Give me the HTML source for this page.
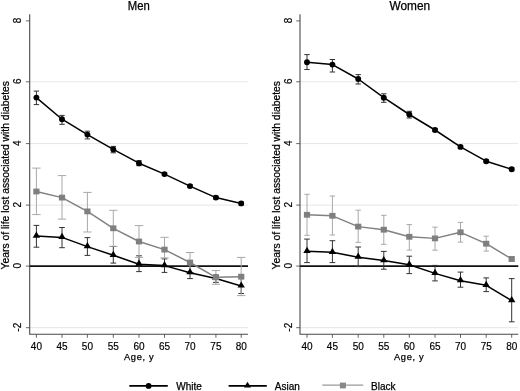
<!DOCTYPE html><html><head><meta charset="utf-8"><style>html,body{margin:0;padding:0;background:#fff;}svg{display:block;will-change:transform;}text{font-family:"Liberation Sans",sans-serif;fill:#000;stroke:#000;stroke-width:0.25px;}.tl{stroke-width:0.18px;}</style></head><body>
<svg width="520" height="391" viewBox="0 0 520 391">
<rect width="520" height="391" fill="#fff"/>
<line x1="29.7" y1="205.1" x2="248" y2="205.1" stroke="#e6e6e6" stroke-width="1"/>
<line x1="29.7" y1="143.6" x2="248" y2="143.6" stroke="#e6e6e6" stroke-width="1"/>
<line x1="29.7" y1="81.8" x2="248" y2="81.8" stroke="#e6e6e6" stroke-width="1"/>
<line x1="29.7" y1="327.7" x2="248" y2="327.7" stroke="#e6e6e6" stroke-width="1"/>
<line x1="25.9" y1="327.7" x2="29.7" y2="327.7" stroke="#666" stroke-width="1"/>
<text transform="translate(20.9,327.2) rotate(-90)" text-anchor="middle" font-size="10" class="tl">-2</text>
<line x1="25.9" y1="266.1" x2="29.7" y2="266.1" stroke="#666" stroke-width="1"/>
<text transform="translate(20.9,265.6) rotate(-90)" text-anchor="middle" font-size="10" class="tl">0</text>
<line x1="25.9" y1="205.1" x2="29.7" y2="205.1" stroke="#666" stroke-width="1"/>
<text transform="translate(20.9,204.6) rotate(-90)" text-anchor="middle" font-size="10" class="tl">2</text>
<line x1="25.9" y1="143.6" x2="29.7" y2="143.6" stroke="#666" stroke-width="1"/>
<text transform="translate(20.9,143.1) rotate(-90)" text-anchor="middle" font-size="10" class="tl">4</text>
<line x1="25.9" y1="81.8" x2="29.7" y2="81.8" stroke="#666" stroke-width="1"/>
<text transform="translate(20.9,81.3) rotate(-90)" text-anchor="middle" font-size="10" class="tl">6</text>
<line x1="25.9" y1="20.9" x2="29.7" y2="20.9" stroke="#666" stroke-width="1"/>
<text transform="translate(20.9,20.4) rotate(-90)" text-anchor="middle" font-size="10" class="tl">8</text>
<line x1="36.4" y1="334.2" x2="36.4" y2="337.8" stroke="#666" stroke-width="1"/>
<text x="36.4" y="350.2" text-anchor="middle" font-size="10" class="tl">40</text>
<line x1="62" y1="334.2" x2="62" y2="337.8" stroke="#666" stroke-width="1"/>
<text x="62" y="350.2" text-anchor="middle" font-size="10" class="tl">45</text>
<line x1="87.4" y1="334.2" x2="87.4" y2="337.8" stroke="#666" stroke-width="1"/>
<text x="87.4" y="350.2" text-anchor="middle" font-size="10" class="tl">50</text>
<line x1="113.3" y1="334.2" x2="113.3" y2="337.8" stroke="#666" stroke-width="1"/>
<text x="113.3" y="350.2" text-anchor="middle" font-size="10" class="tl">55</text>
<line x1="139" y1="334.2" x2="139" y2="337.8" stroke="#666" stroke-width="1"/>
<text x="139" y="350.2" text-anchor="middle" font-size="10" class="tl">60</text>
<line x1="164.5" y1="334.2" x2="164.5" y2="337.8" stroke="#666" stroke-width="1"/>
<text x="164.5" y="350.2" text-anchor="middle" font-size="10" class="tl">65</text>
<line x1="190" y1="334.2" x2="190" y2="337.8" stroke="#666" stroke-width="1"/>
<text x="190" y="350.2" text-anchor="middle" font-size="10" class="tl">70</text>
<line x1="215.9" y1="334.2" x2="215.9" y2="337.8" stroke="#666" stroke-width="1"/>
<text x="215.9" y="350.2" text-anchor="middle" font-size="10" class="tl">75</text>
<line x1="241.2" y1="334.2" x2="241.2" y2="337.8" stroke="#666" stroke-width="1"/>
<text x="241.2" y="350.2" text-anchor="middle" font-size="10" class="tl">80</text>
<path d="M29.7 14.2V334.2H248" fill="none" stroke="#4a4a4a" stroke-width="1.1"/>
<line x1="29.7" y1="266.1" x2="248" y2="266.1" stroke="#111" stroke-width="1.7"/>
<text x="138.85" y="9.8" text-anchor="middle" font-size="12" textLength="22.0" lengthAdjust="spacingAndGlyphs">Men</text>
<text transform="translate(9.4,175.2) rotate(-90)" text-anchor="middle" font-size="10.4" textLength="188.5" lengthAdjust="spacingAndGlyphs">Years of life lost associated with diabetes</text>
<text x="138.8" y="359.9" text-anchor="middle" font-size="9.3" textLength="29.6" lengthAdjust="spacing">Age, y</text>
<path d="M36.4 91.1V104.6M33.7 91.1H39.1M33.7 104.6H39.1" fill="none" stroke="#333" stroke-width="1"/>
<path d="M62 115.4V124.3M59.3 115.4H64.7M59.3 124.3H64.7" fill="none" stroke="#333" stroke-width="1"/>
<path d="M87.4 131.2V138.9M84.7 131.2H90.1M84.7 138.9H90.1" fill="none" stroke="#333" stroke-width="1"/>
<path d="M113.3 146.4V152.8M110.6 146.4H116M110.6 152.8H116" fill="none" stroke="#333" stroke-width="1"/>
<path d="M139 160.7V165.7M136.3 160.7H141.7M136.3 165.7H141.7" fill="none" stroke="#333" stroke-width="1"/>
<path d="M164.5 172.6V175.6M161.8 172.6H167.2M161.8 175.6H167.2" fill="none" stroke="#333" stroke-width="1"/>
<path d="M190 184.6V187.6M187.3 184.6H192.7M187.3 187.6H192.7" fill="none" stroke="#333" stroke-width="1"/>
<path d="M215.9 196.1V199.1M213.2 196.1H218.6M213.2 199.1H218.6" fill="none" stroke="#333" stroke-width="1"/>
<path d="M241.2 201.9V204.9M238.5 201.9H243.9M238.5 204.9H243.9" fill="none" stroke="#333" stroke-width="1"/>
<path d="M36.4 225.4V247.2M33.55 225.4H39.25M33.55 247.2H39.25" fill="none" stroke="#333" stroke-width="1"/>
<path d="M62 227.5V247.7M59.15 227.5H64.85M59.15 247.7H64.85" fill="none" stroke="#333" stroke-width="1"/>
<path d="M87.4 237.6V255.4M84.55 237.6H90.25M84.55 255.4H90.25" fill="none" stroke="#333" stroke-width="1"/>
<path d="M113.3 246.5V263.1M110.45 246.5H116.15M110.45 263.1H116.15" fill="none" stroke="#333" stroke-width="1"/>
<path d="M139 255.8V271.6M136.15 255.8H141.85M136.15 271.6H141.85" fill="none" stroke="#333" stroke-width="1"/>
<path d="M164.5 258.9V272.4M161.65 258.9H167.35M161.65 272.4H167.35" fill="none" stroke="#333" stroke-width="1"/>
<path d="M190 266V278.6M187.15 266H192.85M187.15 278.6H192.85" fill="none" stroke="#333" stroke-width="1"/>
<path d="M215.9 275V282.4M213.05 275H218.75M213.05 282.4H218.75" fill="none" stroke="#333" stroke-width="1"/>
<path d="M241.2 277V293.5M238.35 277H244.05M238.35 293.5H244.05" fill="none" stroke="#333" stroke-width="1"/>
<path d="M36.4 168.1V214.6M32.2 168.1H40.6M32.2 214.6H40.6" fill="none" stroke="#a8a8a8" stroke-width="1"/>
<path d="M62 175.6V219.1M57.8 175.6H66.2M57.8 219.1H66.2" fill="none" stroke="#a8a8a8" stroke-width="1"/>
<path d="M87.4 192.4V232M83.2 192.4H91.6M83.2 232H91.6" fill="none" stroke="#a8a8a8" stroke-width="1"/>
<path d="M113.3 210.3V246.3M109.1 210.3H117.5M109.1 246.3H117.5" fill="none" stroke="#a8a8a8" stroke-width="1"/>
<path d="M139 225.6V257.4M134.8 225.6H143.2M134.8 257.4H143.2" fill="none" stroke="#a8a8a8" stroke-width="1"/>
<path d="M164.5 237.3V257.9M160.3 237.3H168.7M160.3 257.9H168.7" fill="none" stroke="#a8a8a8" stroke-width="1"/>
<path d="M190 252.5V272.5M185.8 252.5H194.2M185.8 272.5H194.2" fill="none" stroke="#a8a8a8" stroke-width="1"/>
<path d="M215.9 270.6V284.3M211.7 270.6H220.1M211.7 284.3H220.1" fill="none" stroke="#a8a8a8" stroke-width="1"/>
<path d="M241.2 257.4V295.6M237 257.4H245.4M237 295.6H245.4" fill="none" stroke="#a8a8a8" stroke-width="1"/>
<polyline points="36.4,97.6 62,119.2 87.4,134.6 113.3,149.4 139,163.2 164.5,174.1 190,186.1 215.9,197.6 241.2,203.4" fill="none" stroke="#000" stroke-width="1.5" stroke-linejoin="round"/>
<circle cx="36.4" cy="97.6" r="2.95" fill="#000"/>
<circle cx="62" cy="119.2" r="2.95" fill="#000"/>
<circle cx="87.4" cy="134.6" r="2.95" fill="#000"/>
<circle cx="113.3" cy="149.4" r="2.95" fill="#000"/>
<circle cx="139" cy="163.2" r="2.95" fill="#000"/>
<circle cx="164.5" cy="174.1" r="2.95" fill="#000"/>
<circle cx="190" cy="186.1" r="2.95" fill="#000"/>
<circle cx="215.9" cy="197.6" r="2.95" fill="#000"/>
<circle cx="241.2" cy="203.4" r="2.95" fill="#000"/>
<polyline points="36.4,236.1 62,237.4 87.4,246.6 113.3,255.3 139,264.2 164.5,265.6 190,272.7 215.9,278.5 241.2,286" fill="none" stroke="#000" stroke-width="1.5" stroke-linejoin="round"/>
<path d="M36.4 231.5L40.1 237.7L32.7 237.7Z" fill="#000"/>
<path d="M62 232.8L65.7 239L58.3 239Z" fill="#000"/>
<path d="M87.4 242L91.1 248.2L83.7 248.2Z" fill="#000"/>
<path d="M113.3 250.7L117 256.9L109.6 256.9Z" fill="#000"/>
<path d="M139 259.6L142.7 265.8L135.3 265.8Z" fill="#000"/>
<path d="M164.5 261L168.2 267.2L160.8 267.2Z" fill="#000"/>
<path d="M190 268.1L193.7 274.3L186.3 274.3Z" fill="#000"/>
<path d="M215.9 273.9L219.6 280.1L212.2 280.1Z" fill="#000"/>
<path d="M241.2 281.4L244.9 287.6L237.5 287.6Z" fill="#000"/>
<polyline points="36.4,191.5 62,197.6 87.4,211.4 113.3,228.3 139,241.5 164.5,249.6 190,262.5 215.9,277.3 241.2,276.7" fill="none" stroke="#808080" stroke-width="1.45" stroke-linejoin="round"/>
<rect x="33.3" y="188.6" width="6.2" height="5.8" fill="#7f7f7f"/>
<rect x="58.9" y="194.7" width="6.2" height="5.8" fill="#7f7f7f"/>
<rect x="84.3" y="208.5" width="6.2" height="5.8" fill="#7f7f7f"/>
<rect x="110.2" y="225.4" width="6.2" height="5.8" fill="#7f7f7f"/>
<rect x="135.9" y="238.6" width="6.2" height="5.8" fill="#7f7f7f"/>
<rect x="161.4" y="246.7" width="6.2" height="5.8" fill="#7f7f7f"/>
<rect x="186.9" y="259.6" width="6.2" height="5.8" fill="#7f7f7f"/>
<rect x="212.8" y="274.4" width="6.2" height="5.8" fill="#7f7f7f"/>
<rect x="238.1" y="273.8" width="6.2" height="5.8" fill="#7f7f7f"/>
<line x1="300" y1="205.1" x2="518.3" y2="205.1" stroke="#e6e6e6" stroke-width="1"/>
<line x1="300" y1="143.6" x2="518.3" y2="143.6" stroke="#e6e6e6" stroke-width="1"/>
<line x1="300" y1="81.8" x2="518.3" y2="81.8" stroke="#e6e6e6" stroke-width="1"/>
<line x1="300" y1="327.7" x2="518.3" y2="327.7" stroke="#e6e6e6" stroke-width="1"/>
<line x1="296.2" y1="327.7" x2="300" y2="327.7" stroke="#666" stroke-width="1"/>
<text transform="translate(291.9,327.2) rotate(-90)" text-anchor="middle" font-size="10" class="tl">-2</text>
<line x1="296.2" y1="266.1" x2="300" y2="266.1" stroke="#666" stroke-width="1"/>
<text transform="translate(291.9,265.6) rotate(-90)" text-anchor="middle" font-size="10" class="tl">0</text>
<line x1="296.2" y1="205.1" x2="300" y2="205.1" stroke="#666" stroke-width="1"/>
<text transform="translate(291.9,204.6) rotate(-90)" text-anchor="middle" font-size="10" class="tl">2</text>
<line x1="296.2" y1="143.6" x2="300" y2="143.6" stroke="#666" stroke-width="1"/>
<text transform="translate(291.9,143.1) rotate(-90)" text-anchor="middle" font-size="10" class="tl">4</text>
<line x1="296.2" y1="81.8" x2="300" y2="81.8" stroke="#666" stroke-width="1"/>
<text transform="translate(291.9,81.3) rotate(-90)" text-anchor="middle" font-size="10" class="tl">6</text>
<line x1="296.2" y1="20.9" x2="300" y2="20.9" stroke="#666" stroke-width="1"/>
<text transform="translate(291.9,20.4) rotate(-90)" text-anchor="middle" font-size="10" class="tl">8</text>
<line x1="307" y1="334.2" x2="307" y2="337.8" stroke="#666" stroke-width="1"/>
<text x="307" y="350.2" text-anchor="middle" font-size="10" class="tl">40</text>
<line x1="332.4" y1="334.2" x2="332.4" y2="337.8" stroke="#666" stroke-width="1"/>
<text x="332.4" y="350.2" text-anchor="middle" font-size="10" class="tl">45</text>
<line x1="358.2" y1="334.2" x2="358.2" y2="337.8" stroke="#666" stroke-width="1"/>
<text x="358.2" y="350.2" text-anchor="middle" font-size="10" class="tl">50</text>
<line x1="383.8" y1="334.2" x2="383.8" y2="337.8" stroke="#666" stroke-width="1"/>
<text x="383.8" y="350.2" text-anchor="middle" font-size="10" class="tl">55</text>
<line x1="409.3" y1="334.2" x2="409.3" y2="337.8" stroke="#666" stroke-width="1"/>
<text x="409.3" y="350.2" text-anchor="middle" font-size="10" class="tl">60</text>
<line x1="435" y1="334.2" x2="435" y2="337.8" stroke="#666" stroke-width="1"/>
<text x="435" y="350.2" text-anchor="middle" font-size="10" class="tl">65</text>
<line x1="460.5" y1="334.2" x2="460.5" y2="337.8" stroke="#666" stroke-width="1"/>
<text x="460.5" y="350.2" text-anchor="middle" font-size="10" class="tl">70</text>
<line x1="486.2" y1="334.2" x2="486.2" y2="337.8" stroke="#666" stroke-width="1"/>
<text x="486.2" y="350.2" text-anchor="middle" font-size="10" class="tl">75</text>
<line x1="511.7" y1="334.2" x2="511.7" y2="337.8" stroke="#666" stroke-width="1"/>
<text x="511.7" y="350.2" text-anchor="middle" font-size="10" class="tl">80</text>
<path d="M300 14.2V334.2H518.3" fill="none" stroke="#4a4a4a" stroke-width="1.1"/>
<line x1="300" y1="266.1" x2="518.3" y2="266.1" stroke="#111" stroke-width="1.7"/>
<text x="409.8" y="9.8" text-anchor="middle" font-size="12" textLength="40.6" lengthAdjust="spacingAndGlyphs">Women</text>
<text transform="translate(279.7,175.2) rotate(-90)" text-anchor="middle" font-size="10.4" textLength="188.5" lengthAdjust="spacingAndGlyphs">Years of life lost associated with diabetes</text>
<text x="408.8" y="359.9" text-anchor="middle" font-size="9.3" textLength="29.6" lengthAdjust="spacing">Age, y</text>
<path d="M307 54.6V69.5M304.3 54.6H309.7M304.3 69.5H309.7" fill="none" stroke="#333" stroke-width="1"/>
<path d="M332.4 59.5V72M329.7 59.5H335.1M329.7 72H335.1" fill="none" stroke="#333" stroke-width="1"/>
<path d="M358.2 74.6V84M355.5 74.6H360.9M355.5 84H360.9" fill="none" stroke="#333" stroke-width="1"/>
<path d="M383.8 93.8V102.3M381.1 93.8H386.5M381.1 102.3H386.5" fill="none" stroke="#333" stroke-width="1"/>
<path d="M409.3 111.3V118M406.6 111.3H412M406.6 118H412" fill="none" stroke="#333" stroke-width="1"/>
<path d="M435 128.5V131.5M432.3 128.5H437.7M432.3 131.5H437.7" fill="none" stroke="#333" stroke-width="1"/>
<path d="M460.5 145.4V148.4M457.8 145.4H463.2M457.8 148.4H463.2" fill="none" stroke="#333" stroke-width="1"/>
<path d="M486.2 159.7V162.7M483.5 159.7H488.9M483.5 162.7H488.9" fill="none" stroke="#333" stroke-width="1"/>
<path d="M511.7 167.7V170.7M509 167.7H514.4M509 170.7H514.4" fill="none" stroke="#333" stroke-width="1"/>
<path d="M307 239.1V262.6M304.15 239.1H309.85M304.15 262.6H309.85" fill="none" stroke="#333" stroke-width="1"/>
<path d="M332.4 240.7V262.6M329.55 240.7H335.25M329.55 262.6H335.25" fill="none" stroke="#333" stroke-width="1"/>
<path d="M358.2 247V266.6M355.35 247H361.05M355.35 266.6H361.05" fill="none" stroke="#333" stroke-width="1"/>
<path d="M383.8 251.4V269.2M380.95 251.4H386.65M380.95 269.2H386.65" fill="none" stroke="#333" stroke-width="1"/>
<path d="M409.3 256.2V273.6M406.45 256.2H412.15M406.45 273.6H412.15" fill="none" stroke="#333" stroke-width="1"/>
<path d="M435 265.4V280.9M432.15 265.4H437.85M432.15 280.9H437.85" fill="none" stroke="#333" stroke-width="1"/>
<path d="M460.5 272.1V287.2M457.65 272.1H463.35M457.65 287.2H463.35" fill="none" stroke="#333" stroke-width="1"/>
<path d="M486.2 277.9V291.6M483.35 277.9H489.05M483.35 291.6H489.05" fill="none" stroke="#333" stroke-width="1"/>
<path d="M511.7 278.6V321.8M508.85 278.6H514.55M508.85 321.8H514.55" fill="none" stroke="#333" stroke-width="1"/>
<path d="M307 194.3V235.3M304.3 194.3H309.7M304.3 235.3H309.7" fill="none" stroke="#a8a8a8" stroke-width="1"/>
<path d="M332.4 196V235M329.7 196H335.1M329.7 235H335.1" fill="none" stroke="#a8a8a8" stroke-width="1"/>
<path d="M358.2 210.2V242.4M355.5 210.2H360.9M355.5 242.4H360.9" fill="none" stroke="#a8a8a8" stroke-width="1"/>
<path d="M383.8 215.3V244.3M381.1 215.3H386.5M381.1 244.3H386.5" fill="none" stroke="#a8a8a8" stroke-width="1"/>
<path d="M409.3 224.6V250.1M406.6 224.6H412M406.6 250.1H412" fill="none" stroke="#a8a8a8" stroke-width="1"/>
<path d="M435 227.1V250.2M432.3 227.1H437.7M432.3 250.2H437.7" fill="none" stroke="#a8a8a8" stroke-width="1"/>
<path d="M460.5 222.4V242.1M457.8 222.4H463.2M457.8 242.1H463.2" fill="none" stroke="#a8a8a8" stroke-width="1"/>
<path d="M486.2 236.2V251.1M483.5 236.2H488.9M483.5 251.1H488.9" fill="none" stroke="#a8a8a8" stroke-width="1"/>
<path d="M511.7 256.5V261.5M509 256.5H514.4M509 261.5H514.4" fill="none" stroke="#a8a8a8" stroke-width="1"/>
<polyline points="307,62.3 332.4,64.6 358.2,79 383.8,97.7 409.3,114.5 435,130 460.5,146.9 486.2,161.2 511.7,169.2" fill="none" stroke="#000" stroke-width="1.5" stroke-linejoin="round"/>
<circle cx="307" cy="62.3" r="2.95" fill="#000"/>
<circle cx="332.4" cy="64.6" r="2.95" fill="#000"/>
<circle cx="358.2" cy="79" r="2.95" fill="#000"/>
<circle cx="383.8" cy="97.7" r="2.95" fill="#000"/>
<circle cx="409.3" cy="114.5" r="2.95" fill="#000"/>
<circle cx="435" cy="130" r="2.95" fill="#000"/>
<circle cx="460.5" cy="146.9" r="2.95" fill="#000"/>
<circle cx="486.2" cy="161.2" r="2.95" fill="#000"/>
<circle cx="511.7" cy="169.2" r="2.95" fill="#000"/>
<polyline points="307,251.3 332.4,252.3 358.2,257.2 383.8,260.6 409.3,264.8 435,273.4 460.5,280.7 486.2,285.3 511.7,300.7" fill="none" stroke="#000" stroke-width="1.5" stroke-linejoin="round"/>
<path d="M307 246.7L310.7 252.9L303.3 252.9Z" fill="#000"/>
<path d="M332.4 247.7L336.1 253.9L328.7 253.9Z" fill="#000"/>
<path d="M358.2 252.6L361.9 258.8L354.5 258.8Z" fill="#000"/>
<path d="M383.8 256L387.5 262.2L380.1 262.2Z" fill="#000"/>
<path d="M409.3 260.2L413 266.4L405.6 266.4Z" fill="#000"/>
<path d="M435 268.8L438.7 275L431.3 275Z" fill="#000"/>
<path d="M460.5 276.1L464.2 282.3L456.8 282.3Z" fill="#000"/>
<path d="M486.2 280.7L489.9 286.9L482.5 286.9Z" fill="#000"/>
<path d="M511.7 296.1L515.4 302.3L508 302.3Z" fill="#000"/>
<polyline points="307,214.8 332.4,215.8 358.2,226.6 383.8,229.7 409.3,236.8 435,238.4 460.5,232.3 486.2,243.7 511.7,259" fill="none" stroke="#808080" stroke-width="1.45" stroke-linejoin="round"/>
<rect x="303.9" y="211.9" width="6.2" height="5.8" fill="#7f7f7f"/>
<rect x="329.3" y="212.9" width="6.2" height="5.8" fill="#7f7f7f"/>
<rect x="355.1" y="223.7" width="6.2" height="5.8" fill="#7f7f7f"/>
<rect x="380.7" y="226.8" width="6.2" height="5.8" fill="#7f7f7f"/>
<rect x="406.2" y="233.9" width="6.2" height="5.8" fill="#7f7f7f"/>
<rect x="431.9" y="235.5" width="6.2" height="5.8" fill="#7f7f7f"/>
<rect x="457.4" y="229.4" width="6.2" height="5.8" fill="#7f7f7f"/>
<rect x="483.1" y="240.8" width="6.2" height="5.8" fill="#7f7f7f"/>
<rect x="508.6" y="256.1" width="6.2" height="5.8" fill="#7f7f7f"/>
<line x1="129.3" y1="385.9" x2="167.8" y2="385.9" stroke="#000" stroke-width="1.6"/>
<circle cx="148.6" cy="385.9" r="2.9" fill="#000"/>
<text x="176.2" y="390" font-size="10">White</text>
<line x1="228.6" y1="385.9" x2="266.8" y2="385.9" stroke="#000" stroke-width="1.6"/>
<path d="M247.5 381.7L251 387.6L244 387.6Z" fill="#000"/>
<text x="274.8" y="390" font-size="10">Asian</text>
<line x1="322.3" y1="385.2" x2="363.2" y2="385.2" stroke="#9a9a9a" stroke-width="1.3"/>
<rect x="339.9" y="382.6" width="6" height="5.8" fill="#888"/>
<text x="371" y="389.7" font-size="10">Black</text>
</svg></body></html>
